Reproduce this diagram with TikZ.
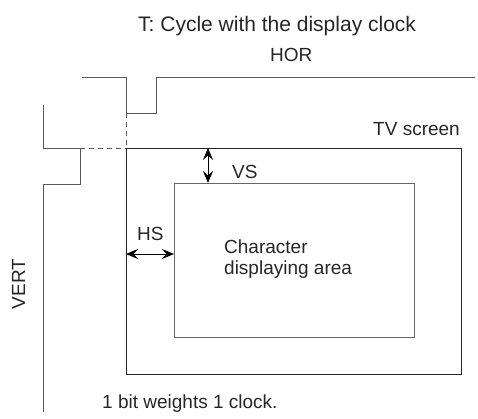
\documentclass[tikz,border=0pt]{standalone}
\usepackage{fontspec}
\setmainfont{Liberation Sans}
\usetikzlibrary{arrows.meta}
\begin{document}
\begin{tikzpicture}[x=1pt,y=-1pt,
  wave/.style={draw=black!65, line width=0.9pt},
  dashline/.style={draw=black!65, line width=0.9pt, dash pattern=on 5pt off 4pt},
  outer/.style={draw=black!85, line width=0.9pt},
  inner/.style={draw=black!60, line width=0.9pt},
  dim/.style={draw=black, line width=0.9pt, {Stealth[length=12pt,width=10pt,inset=4.5pt]}-{Stealth[length=12pt,width=10pt,inset=4.5pt]}},
  lbl/.style={inner sep=0pt, anchor=base west, text=black!85, font=\fontsize{19}{21}\selectfont}]
\useasboundingbox (0,0) rectangle (478,418);
% coordinates
\coordinate (h0) at (82,77);
\coordinate (h1) at (126,113);
\coordinate (h2) at (156,77);
\coordinate (h3) at (475,77);
\coordinate (v0) at (43,105);
\coordinate (v1) at (80,148);
\coordinate (v2) at (43,184);
\coordinate (v3) at (43,412);
\coordinate (sTL) at (126,148);
\coordinate (sBR) at (461,374);
\coordinate (cTL) at (174,183);
\coordinate (cBR) at (414,337);
\coordinate (vsT) at (208,148);
\coordinate (vsB) at (208,183);
\coordinate (hsL) at (126,254);
\coordinate (hsR) at (174,254);
% HOR waveform
\draw[wave] (h0) -| (h1) -| (h2) -- (h3);
\draw[dashline] (h1) -- (sTL);
% VERT waveform
\draw[wave] (v0) |- (v1) |- (v2) -- (v3);
\draw[dashline] (v1) -- (sTL);
% rectangles
\draw[outer] (sTL) rectangle (sBR);
\draw[inner] (cTL) rectangle (cBR);
% dimension arrows
\draw[dim] (vsT) -- (vsB);
\draw[dim] (hsL) -- (hsR);
% texts
\node[lbl, font=\fontsize{21}{24}\selectfont] (title) at (138,31) {T: Cycle with the display clock};
\node[lbl] (hor) at (270,61) {HOR};
\node[lbl] (tv) at (373,135) {TV screen};
\node[lbl] (vs) at (232,178) {VS};
\node[lbl] (hs) at (137,240) {HS};
\node[lbl] (ch1) at (224,253) {Character};
\node[lbl] (ch2) at (224,274) {displaying area};
\node[lbl, anchor=base, rotate=90] (vert) at (25,284) {VERT};
\node[lbl] (note) at (102,408) {1 bit weights 1 clock.};
\end{tikzpicture}
\end{document}
